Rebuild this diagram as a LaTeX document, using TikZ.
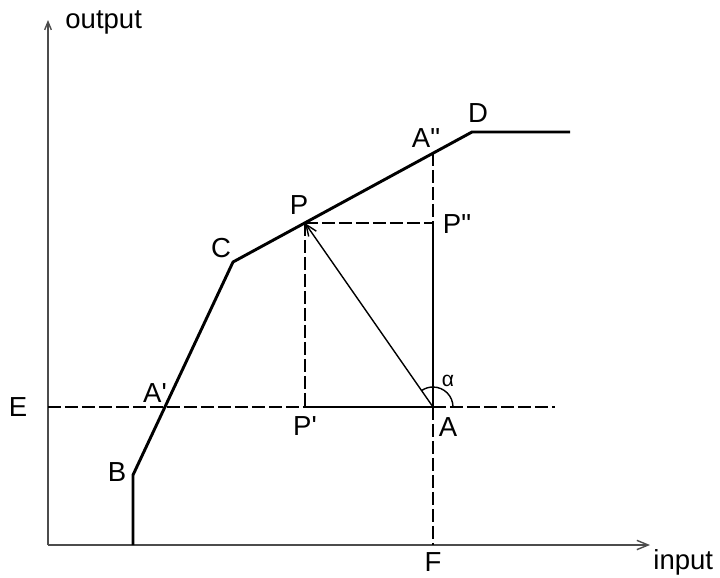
\documentclass[tikz,border=0pt]{standalone}
\usepackage{fontspec}
\setmainfont{Liberation Sans}
\usetikzlibrary{arrows.meta,positioning}

\begin{document}
\begin{tikzpicture}[x=0.03cm, y=-0.03cm,
    every node/.style={font=\fontsize{23.5}{27}\selectfont, inner sep=1pt},
    axis/.style={line width=1.2pt, black!70},
    curve/.style={line width=2.5pt, line join=round},
    guide/.style={line width=1.2pt, dash pattern=on 11pt off 3.5pt},
    solidthin/.style={line width=1.2pt},
    barb/.style={-{Straight Barb[length=3.4mm, width=2.8mm]}}]
    \useasboundingbox (0,0) rectangle (720,577);

    % Points
    \coordinate (O) at (48,545);
    \coordinate (ytip) at (48,20);
    \coordinate (xtip) at (650,545);
    \coordinate (start) at (133,545);
    \coordinate (B) at (133,475);
    \coordinate (C) at (233,262);
    \coordinate (D) at (472,132);
    \coordinate (end) at (570,132);
    \coordinate (E) at (48,407);
    \coordinate (Ap) at (165,407);
    \coordinate (P) at (305,223);
    \coordinate (Pp) at (305,407);
    \coordinate (Ppp) at (433,223);
    \coordinate (App) at (433,153);
    \coordinate (A) at (433,407);
    \coordinate (F) at (433,545);
    \coordinate (Eend) at (555,407);

    % Axes
    \draw[axis, -{Straight Barb[length=2.4mm, width=2mm]}] (O) -- (ytip);
    \draw[axis, barb] (O) -- (xtip);

    % Characteristic
    \draw[curve] (start) -- (B) -- (C) -- (D) -- (end);

    % Construction lines
    \draw[guide] (E) -- (Pp);
    \draw[solidthin] (Pp) -- (A);
    \draw[guide] (A) -- (Eend);
    \draw[guide] (P) -- (Pp);
    \draw[guide] (P) -- (Ppp);
    \draw[guide] (App) -- (Ppp);
    \draw[solidthin] (Ppp) -- (A);
    \draw[guide] (A) -- (F);
    \draw[solidthin, barb] (A) -- (P);
    \draw[solidthin] (A) ++(0:0.6cm) arc[start angle=0, end angle=125, radius=0.6cm];

    % Labels
    \node (outputlbl) [anchor=west] at (64,22) {output};
    \node (inputlbl) [anchor=west] at (652,562) {input};
    \node (Elbl) at (18,407) {E};
    \node (Blbl) at (117,472) {B};
    \node (Clbl) at (221,248) {C};
    \node (Aplbl) at (155,393) {A\textquotesingle};
    \node (Plbl) at (299,205) {P};
    \node (Pplbl) at (305,426) {P\textquotesingle};
    \node (Ppplbl) at (457,224) {P\textquotedbl};
    \node (Applbl) at (426,138) {A\textquotedbl};
    \node (Dlbl) at (478,113) {D};
    \node (Albl) at (448,427) {A};
    \node (alphalbl) at (448,381) {\fontsize{18}{21}\selectfont α};
    \node (Flbl) at (433,562) {F};
\end{tikzpicture}
\end{document}
